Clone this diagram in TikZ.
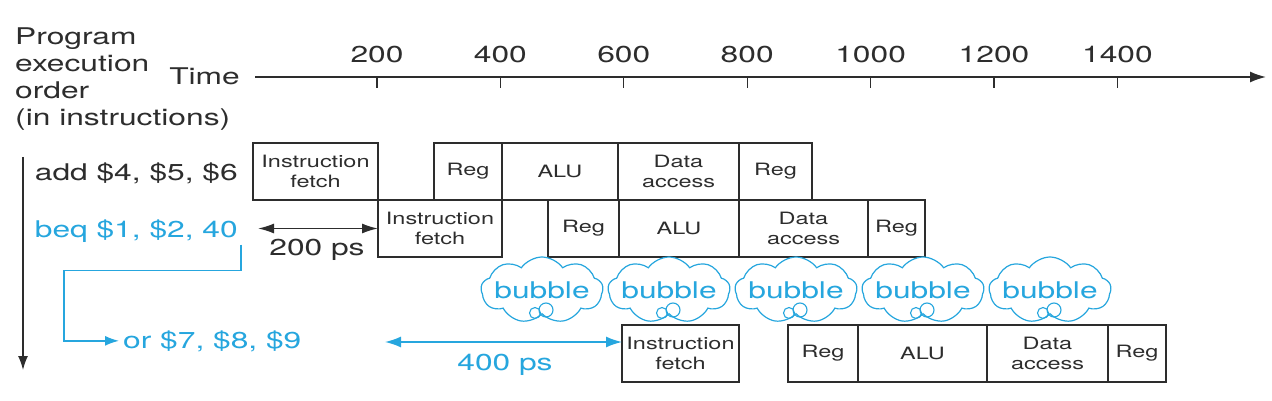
\documentclass[tikz,border=0pt]{standalone}
\usepackage{fontspec}
\setmainfont{TeX Gyre Heros}[FakeStretch=1.38]
\usetikzlibrary{positioning, arrows.meta, shapes.symbols}
\definecolor{inkgray}{RGB}{45,45,45}
\definecolor{pipeblue}{RGB}{38,166,222}

\tikzset{
  lbl/.style={font=\fontsize{23}{27}\selectfont, text=inkgray, inner sep=0pt},
  stagebox/.style={draw=inkgray, line width=1.3pt, minimum height=57pt, inner sep=0pt, outer sep=0pt,
                   align=center, font=\fontsize{17}{20}\selectfont, text=inkgray},
  bubblecloud/.style={cloud, cloud puffs=9, cloud puff arc=110, aspect=1.9, draw=pipeblue, line width=1.2pt,
                      fill=white, minimum width=122pt, minimum height=66pt, inner sep=0pt},
  bubbletxt/.style={font=\fontsize{23}{27}\selectfont, text=pipeblue, inner sep=0pt},
  axisline/.style={draw=inkgray, line width=1.6pt, -{Latex[length=16pt,width=11pt]}},
  tickline/.style={draw=inkgray, line width=1.3pt},
  blkarrow/.style={draw=inkgray, line width=1.5pt, -{Latex[length=14pt,width=10pt]}},
  blkdbl/.style={draw=inkgray, line width=1.5pt, {Latex[length=16pt,width=10pt]}-{Latex[length=16pt,width=10pt]}},
  bluedbl/.style={draw=pipeblue, line width=1.5pt, {Latex[length=16pt,width=11pt]}-{Latex[length=16pt,width=11pt]}},
  bluelink/.style={draw=pipeblue, line width=1.5pt, -{Latex[length=14pt,width=10pt]}, shorten >=4pt}
}

\begin{document}
\begin{tikzpicture}[x=1pt, y=-1pt]
    \useasboundingbox (0,0) rectangle (1272,401);

    % labels on the left
    \node[lbl, anchor=north west, align=left] (order) at (15,27.5) {Program\\execution\\order\\(in instructions)};
    \node[lbl, anchor=base east] (timelbl) at (240,85) {Time};
    \node[lbl, anchor=base east] (add) at (238,181) {add \$4, \$5, \$6};
    \node[lbl, anchor=base east, text=pipeblue] (beq) at (238,237) {beq \$1, \$2, 40};
    \node[lbl, anchor=base west, text=pipeblue] (orinst) at (123,348) {or \$7, \$8, \$9};

    % time axis
    \coordinate (axL) at (255,77);
    \coordinate (axR) at (1266,77);
    \draw[axisline] (axL) -- (axR);
    \foreach \t [count=\i from 0] in {200,400,...,1400} {
        \draw[tickline] ({377+123.4*\i},77) -- ++(0,11);
        \node[lbl, anchor=base] (tk\t) at ({377+123.4*\i},63) {\t};
    }

    % add
    \node[stagebox, minimum width=125pt, anchor=north west] (if1) at (253,143) {Instruction\\fetch};
    \node[stagebox, minimum width=68pt, right=56pt of if1] (rr1) {Reg};
    \node[stagebox, minimum width=116pt, right=0pt of rr1] (alu1) {ALU};
    \node[stagebox, minimum width=121pt, right=0pt of alu1] (da1) {Data\\access};
    \node[stagebox, minimum width=73pt, right=0pt of da1] (rw1) {Reg};

    % beq
    \node[stagebox, minimum width=124pt, anchor=north west] (if2) at (if1.south east) {Instruction\\fetch};
    \node[stagebox, minimum width=71pt, right=46pt of if2] (rr2) {Reg};
    \node[stagebox, minimum width=120pt, right=0pt of rr2] (alu2) {ALU};
    \node[stagebox, minimum width=129pt, right=0pt of alu2] (da2) {Data\\access};
    \node[stagebox, minimum width=57pt, right=0pt of da2] (rw2) {Reg};

    % or
    \node[stagebox, minimum width=117pt, anchor=north west] (if3) at (622,325) {Instruction\\fetch};
    \node[stagebox, minimum width=70pt, right=49pt of if3] (rr3) {Reg};
    \node[stagebox, minimum width=129pt, right=0pt of rr3] (alu3) {ALU};
    \node[stagebox, minimum width=121pt, right=0pt of alu3] (da3) {Data\\access};
    \node[stagebox, minimum width=58pt, right=0pt of da3] (rw3) {Reg};

    % bubbles
    \foreach \i in {0,...,4} {
        \node[bubblecloud, label={[bubbletxt, name=bt\i]center:bubble}] (b\i) at ({542+127*\i},290) {};
        \draw[pipeblue, line width=1.1pt] ([shift={(-7,23)}]b\i.center) circle (5.5pt)
                                          ([shift={(4,20)}]b\i.center) circle (7pt);
    }

    % order arrow and branch link
    \coordinate (ordtop) at (23,157);
    \coordinate (ordbot) at (23,370);
    \draw[blkarrow] (ordtop) -- (ordbot);
    \draw[bluelink] (beq.south east) ++(3,2.5) |- ++(-177,26) |- (orinst.west);

    % durations
    \coordinate (d2l) at (258,228.5);
    \draw[blkdbl] (d2l) -- (if2.west);
    \node[lbl, anchor=base] (d2lbl) at (317,255) {200 ps};
    \coordinate (d4l) at (385,342);
    \draw[bluedbl] (d4l) -- (d4l -| if3.west);
    \node[lbl, anchor=base, text=pipeblue] (d4lbl) at (505,370) {400 ps};
\end{tikzpicture}
\end{document}
